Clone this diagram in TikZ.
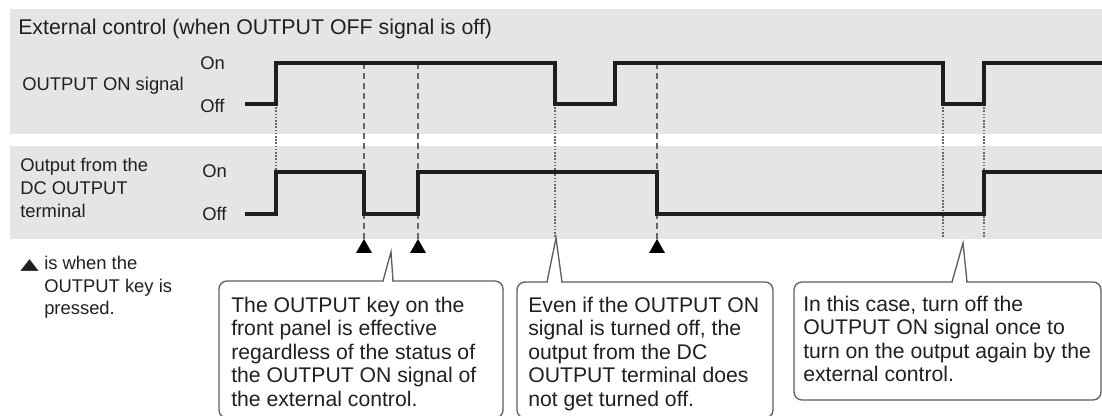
\documentclass[tikz,border=0pt]{standalone}
\usepackage{fontspec}
\setmainfont{Liberation Sans}
\newfontfamily\symfont{DejaVu Sans}
\definecolor{panelc}{HTML}{E5E5E5}
\definecolor{wavec}{HTML}{1E1E1E}
\definecolor{guidec}{HTML}{666666}
\definecolor{boxline}{HTML}{5E5E5E}
\definecolor{txt}{HTML}{231F20}
\newcommand{\keymark}{{\symfont\fontsize{18}{18}\selectfont\scalebox{1}[0.64]{▲}}}
\begin{document}
\begin{tikzpicture}[x=0.75pt,y=-0.75pt,
  wave/.style={line width=3.1pt, draw=wavec, line join=miter},
  dashguide/.style={draw=guidec, line width=1pt, dash pattern=on 4.5pt off 3pt},
  dotguide/.style={draw=guidec, line width=1.1pt, dash pattern=on 1.2pt off 1.2pt},
  lbl/.style={inner sep=0pt, anchor=base west, align=left, font=\fontsize{13.8}{17.2}\selectfont, text=txt},
  titletext/.style={inner sep=0pt, anchor=base west, font=\fontsize{16}{19}\selectfont, text=txt},
  calltext/.style={inner sep=0pt, anchor=base west, align=left, font=\fontsize{15.9}{17.6}\selectfont, text=txt},
  callbox/.style={draw=boxline, line width=1pt, fill=white, rounded corners=6pt},
  keytri/.style={fill=black}]
\clip (0,0) rectangle (1102,416);
% panels
\fill[panelc] (10,9) rectangle (1102,134);
\fill[panelc] (10,146) rectangle (1102,239);
% labels (multi-line nodes are anchored at the baseline of their last line)
\node[titletext] (title) at (18,35) {External control (when OUTPUT OFF signal is off)};
\node[lbl] (sig1) at (22,91) {OUTPUT ON signal};
\node[lbl] (on1) at (200,70) {On};
\node[lbl] (off1) at (200,113) {Off};
\node[lbl] (sig2) at (20,217.5) {Output from the\\DC OUTPUT\\terminal};
\node[lbl] (on2) at (202,178) {On};
\node[lbl] (off2) at (202,221) {Off};
\node[lbl] (legend) at (20,315) {\makebox[18pt][l]{\keymark}is when the\\\hspace*{18pt}OUTPUT key is\\\hspace*{18pt}pressed.};
% guides
\draw[dashguide] (364,63) -- (364,239);
\draw[dashguide] (418,63) -- (418,239);
\draw[dashguide] (657,63) -- (657,239);
\draw[dotguide] (276,104) -- (276,172);
\draw[dotguide] (555,104) -- (555,238);
\draw[dotguide] (943,104) -- (943,238);
\draw[dotguide] (984,104) -- (984,238);
% waveforms
\draw[wave] (245,104) -- (276,104) -- (276,63) -- (555,63) -- (555,104) -- (615,104) -- (615,63) -- (943,63) -- (943,104) -- (984,104) -- (984,63) -- (1104,63);
\draw[wave] (245,214) -- (276,214) -- (276,172) -- (364,172) -- (364,214) -- (418,214) -- (418,172) -- (657,172) -- (657,214) -- (984,214) -- (984,172) -- (1104,172);
% key-press markers
\fill[keytri] (364,239) -- (356,253) -- (372,253) -- cycle;
\fill[keytri] (418,239) -- (410,253) -- (426,253) -- cycle;
\fill[keytri] (657,239) -- (649,253) -- (665,253) -- cycle;
% callout 1
\draw[callbox] (219,281) rectangle (503,418);
\coordinate (t1) at (391,252);
\draw[white, line width=1.6pt] (384,281) -- (392,281);
\draw[boxline, line width=1pt] (383,281) -- (t1) -- (393,281);
\node[calltext] (c1) at (231,406) {The OUTPUT key on the\\front panel is effective\\regardless of the status of\\the OUTPUT ON signal of\\the external control.};
% callout 2
\draw[callbox] (517,282) rectangle (773,418);
\coordinate (t2) at (556,238);
\draw[white, line width=1.6pt] (548,282) -- (561,282);
\draw[boxline, line width=1pt] (547,282) -- (t2) -- (562,282);
\node[calltext] (c2) at (528,406) {Even if the OUTPUT ON\\signal is turned off, the\\output from the DC\\OUTPUT terminal does\\not get turned off.};
% callout 3
\draw[callbox] (794,282) rectangle (1101,400);
\coordinate (t3) at (963,243);
\draw[white, line width=1.6pt] (953,282) -- (966,282);
\draw[boxline, line width=1pt] (952,282) -- (t3) -- (967,282);
\node[calltext] (c3) at (803,381.5) {In this case, turn off the\\OUTPUT ON signal once to\\turn on the output again by the\\external control.};
\end{tikzpicture}
\end{document}
